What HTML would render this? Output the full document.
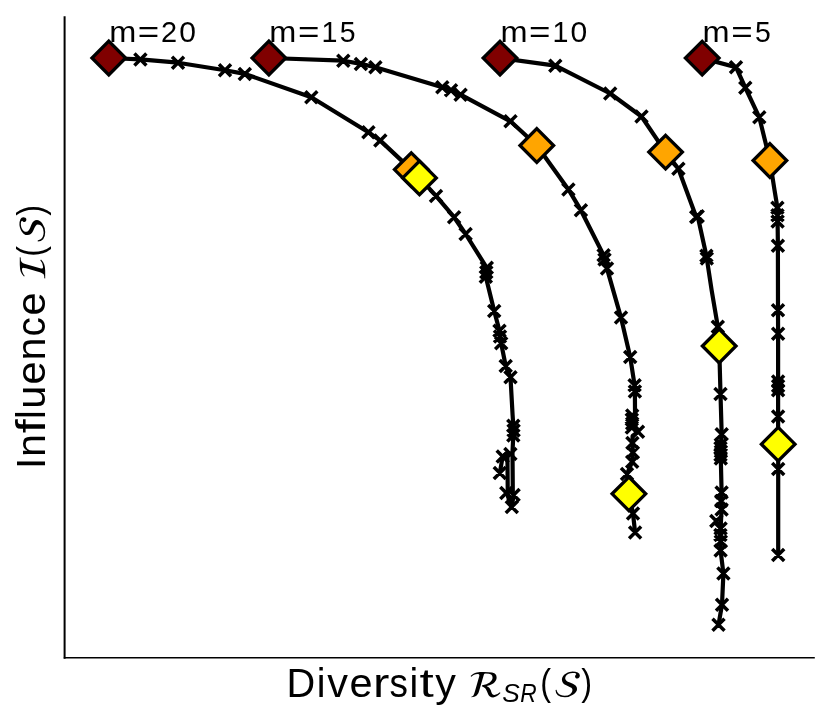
<!DOCTYPE html>
<html lang="en"><head><meta charset="utf-8"><title>Influence vs. Diversity trade-off curves</title>
<style>html,body{margin:0;padding:0;background:#fff;overflow:hidden;}svg{display:block;will-change:transform;}text{font-family:"Liberation Sans",sans-serif;fill:#000;}.obl{font-family:"Liberation Sans",sans-serif;font-style:italic;}</style></head><body>
<svg role="img" aria-label="Influence I(S) versus Diversity R_SR(S) for m=20, 15, 10, 5" width="830" height="724" viewBox="0 0 830 724">
<rect x="0" y="0" width="830" height="724" fill="#ffffff"/>
<g stroke="#000" fill="none" stroke-linecap="square">
<line x1="64.6" y1="17.2" x2="64.6" y2="657.7" stroke-width="2"/>
<line x1="64.6" y1="657.7" x2="814" y2="657.7" stroke-width="1.6"/>
</g>
<g stroke="#000" stroke-width="4.2" fill="none" stroke-linejoin="round" stroke-linecap="butt">
<polyline points="108.8,58.0 140.4,59.4 178.0,62.7 225.0,70.2 244.8,73.9 311.3,97.2 368.4,132.3 380.3,140.6 411.3,169.6 419.5,177.9 436.0,195.9 454.1,217.2 465.6,234.0 486.8,267.8 486.3,272.3 485.8,276.8 494.2,310.9 499.5,330.7 500.0,336.5 501.2,343.3 505.7,366.0 510.5,377.3 512.6,415.0 513.3,425.8 513.6,430.6 513.3,435.4 512.5,452.0 512.8,492.0 513.6,495.0 511.8,507.0 507.8,496.0 507.4,453.0 502.7,456.4 499.8,473.0"/>
<polyline points="268.9,58.0 343.3,60.7 360.9,63.9 375.4,67.2 442.3,87.2 451.0,90.3 460.6,94.7 510.5,121.3 536.8,145.5 568.4,189.4 580.9,210.2 603.6,255.2 604.5,259.5 607.0,268.6 621.0,317.6 630.2,356.9 634.6,385.2 634.9,391.5 635.0,410.0 635.2,427.0 638.0,431.8 632.6,436.0 632.4,443.0 632.9,452.6 632.2,461.8 627.0,474.0 628.9,493.8 633.0,513.5 635.1,532.6"/>
<polyline points="500.0,58.1 555.3,65.7 610.2,93.5 641.5,116.5 665.6,152.1 678.4,168.8 696.2,216.9 697.7,216.3 706.4,255.8 706.8,258.4 711.6,290.0 717.8,326.7 719.2,346.0 720.5,394.0 721.7,434.2 720.8,444.5 720.5,448.0 720.9,451.5 720.5,455.0 720.8,458.5 721.6,492.4 721.2,501.0 721.6,509.5 720.6,528.5 720.4,535.0 720.8,541.5 720.6,550.5 723.4,573.6 722.0,604.7 718.5,624.8"/>
<polyline points="702.2,58.1 736.0,67.2 745.3,87.7 759.3,117.3 769.9,160.5 774.5,190.0 777.4,207.7 777.5,215.2 777.6,221.5 777.9,245.8 778.0,310.2 778.1,333.8 778.1,381.5 778.1,386.0 778.1,390.3 778.1,416.5 778.2,444.2 778.2,469.1 778.2,555.0"/>
</g>
<path d="M134.4 53.4L146.4 65.4M134.4 65.4L146.4 53.4M172.0 56.7L184.0 68.7M172.0 68.7L184.0 56.7M219.0 64.2L231.0 76.2M219.0 76.2L231.0 64.2M238.8 67.9L250.8 79.9M238.8 79.9L250.8 67.9M305.3 91.2L317.3 103.2M305.3 103.2L317.3 91.2M362.4 126.3L374.4 138.3M362.4 138.3L374.4 126.3M374.3 134.6L386.3 146.6M374.3 146.6L386.3 134.6M430.0 189.9L442.0 201.9M430.0 201.9L442.0 189.9M448.1 211.2L460.1 223.2M448.1 223.2L460.1 211.2M459.6 228.0L471.6 240.0M459.6 240.0L471.6 228.0M480.8 261.8L492.8 273.8M480.8 273.8L492.8 261.8M480.3 266.3L492.3 278.3M480.3 278.3L492.3 266.3M479.8 270.8L491.8 282.8M479.8 282.8L491.8 270.8M488.2 304.9L500.2 316.9M488.2 316.9L500.2 304.9M493.5 324.7L505.5 336.7M493.5 336.7L505.5 324.7M494.0 330.5L506.0 342.5M494.0 342.5L506.0 330.5M495.2 337.3L507.2 349.3M495.2 349.3L507.2 337.3M499.7 360.0L511.7 372.0M499.7 372.0L511.7 360.0M504.5 371.3L516.5 383.3M504.5 383.3L516.5 371.3M507.3 419.8L519.3 431.8M507.3 431.8L519.3 419.8M507.6 424.6L519.6 436.6M507.6 436.6L519.6 424.6M507.3 429.4L519.3 441.4M507.3 441.4L519.3 429.4M504.4 448.0L516.4 460.0M504.4 460.0L516.4 448.0M507.6 489.0L519.6 501.0M507.6 501.0L519.6 489.0M505.8 501.0L517.8 513.0M505.8 513.0L517.8 501.0M500.3 487.0L512.3 499.0M500.3 499.0L512.3 487.0M496.7 450.4L508.7 462.4M496.7 462.4L508.7 450.4M493.8 467.0L505.8 479.0M493.8 479.0L505.8 467.0M337.3 54.7L349.3 66.7M337.3 66.7L349.3 54.7M354.9 57.9L366.9 69.9M354.9 69.9L366.9 57.9M369.4 61.2L381.4 73.2M369.4 73.2L381.4 61.2M436.3 81.2L448.3 93.2M436.3 93.2L448.3 81.2M445.0 84.3L457.0 96.3M445.0 96.3L457.0 84.3M454.6 88.7L466.6 100.7M454.6 100.7L466.6 88.7M504.5 115.3L516.5 127.3M504.5 127.3L516.5 115.3M562.4 183.4L574.4 195.4M562.4 195.4L574.4 183.4M574.9 204.2L586.9 216.2M574.9 216.2L586.9 204.2M597.6 249.2L609.6 261.2M597.6 261.2L609.6 249.2M598.5 253.5L610.5 265.5M598.5 265.5L610.5 253.5M601.0 262.6L613.0 274.6M601.0 274.6L613.0 262.6M615.0 311.6L627.0 323.6M615.0 323.6L627.0 311.6M624.2 350.9L636.2 362.9M624.2 362.9L636.2 350.9M628.6 379.2L640.6 391.2M628.6 391.2L640.6 379.2M628.9 385.5L640.9 397.5M628.9 397.5L640.9 385.5M626.2 409.5L638.2 421.5M626.2 421.5L638.2 409.5M625.8 413.5L637.8 425.5M625.8 425.5L637.8 413.5M626.2 417.5L638.2 429.5M626.2 429.5L638.2 417.5M625.8 421.5L637.8 433.5M625.8 433.5L637.8 421.5M632.0 425.8L644.0 437.8M632.0 437.8L644.0 425.8M626.4 437.0L638.4 449.0M626.4 449.0L638.4 437.0M626.9 446.6L638.9 458.6M626.9 458.6L638.9 446.6M626.2 455.8L638.2 467.8M626.2 467.8L638.2 455.8M621.0 468.0L633.0 480.0M621.0 480.0L633.0 468.0M627.0 507.5L639.0 519.5M627.0 519.5L639.0 507.5M629.1 526.6L641.1 538.6M629.1 538.6L641.1 526.6M549.3 59.7L561.3 71.7M549.3 71.7L561.3 59.7M604.2 87.5L616.2 99.5M604.2 99.5L616.2 87.5M635.5 110.5L647.5 122.5M635.5 122.5L647.5 110.5M672.4 162.8L684.4 174.8M672.4 174.8L684.4 162.8M690.2 210.9L702.2 222.9M690.2 222.9L702.2 210.9M691.7 210.3L703.7 222.3M691.7 222.3L703.7 210.3M700.4 249.8L712.4 261.8M700.4 261.8L712.4 249.8M700.8 252.4L712.8 264.4M700.8 264.4L712.8 252.4M711.8 320.7L723.8 332.7M711.8 332.7L723.8 320.7M714.5 388.0L726.5 400.0M714.5 400.0L726.5 388.0M715.7 428.2L727.7 440.2M715.7 440.2L727.7 428.2M714.8 438.5L726.8 450.5M714.8 450.5L726.8 438.5M714.5 442.0L726.5 454.0M714.5 454.0L726.5 442.0M714.9 445.5L726.9 457.5M714.9 457.5L726.9 445.5M714.5 449.0L726.5 461.0M714.5 461.0L726.5 449.0M714.8 452.5L726.8 464.5M714.8 464.5L726.8 452.5M715.6 486.4L727.6 498.4M715.6 498.4L727.6 486.4M715.2 495.0L727.2 507.0M715.2 507.0L727.2 495.0M715.6 503.5L727.6 515.5M715.6 515.5L727.6 503.5M710.3 515.0L722.3 527.0M710.3 527.0L722.3 515.0M714.6 522.5L726.6 534.5M714.6 534.5L726.6 522.5M714.4 529.0L726.4 541.0M714.4 541.0L726.4 529.0M714.8 535.5L726.8 547.5M714.8 547.5L726.8 535.5M714.6 544.5L726.6 556.5M714.6 556.5L726.6 544.5M717.4 567.6L729.4 579.6M717.4 579.6L729.4 567.6M716.0 598.7L728.0 610.7M716.0 610.7L728.0 598.7M712.5 618.8L724.5 630.8M712.5 630.8L724.5 618.8M730.0 61.2L742.0 73.2M730.0 73.2L742.0 61.2M739.3 81.7L751.3 93.7M739.3 93.7L751.3 81.7M753.3 111.3L765.3 123.3M753.3 123.3L765.3 111.3M771.4 201.7L783.4 213.7M771.4 213.7L783.4 201.7M771.5 209.2L783.5 221.2M771.5 221.2L783.5 209.2M771.6 215.5L783.6 227.5M771.6 227.5L783.6 215.5M771.9 239.8L783.9 251.8M771.9 251.8L783.9 239.8M772.0 304.2L784.0 316.2M772.0 316.2L784.0 304.2M772.1 327.8L784.1 339.8M772.1 339.8L784.1 327.8M772.1 375.5L784.1 387.5M772.1 387.5L784.1 375.5M772.1 380.0L784.1 392.0M772.1 392.0L784.1 380.0M772.1 384.3L784.1 396.3M772.1 396.3L784.1 384.3M772.1 410.5L784.1 422.5M772.1 422.5L784.1 410.5M772.2 463.1L784.2 475.1M772.2 475.1L784.2 463.1M772.2 549.0L784.2 561.0M772.2 561.0L784.2 549.0" stroke="#000" stroke-width="3.5" fill="none" stroke-linecap="butt"/>
<path d="M108.8 41.2L125.6 58.0L108.8 74.8L92.0 58.0Z" fill="#800000" stroke="#000" stroke-width="3.3" stroke-linejoin="miter"/>
<path d="M268.9 41.2L285.7 58.0L268.9 74.8L252.1 58.0Z" fill="#800000" stroke="#000" stroke-width="3.3" stroke-linejoin="miter"/>
<path d="M500.0 41.3L516.8 58.1L500.0 74.9L483.2 58.1Z" fill="#800000" stroke="#000" stroke-width="3.3" stroke-linejoin="miter"/>
<path d="M702.2 41.3L719.0 58.1L702.2 74.9L685.4 58.1Z" fill="#800000" stroke="#000" stroke-width="3.3" stroke-linejoin="miter"/>
<path d="M411.3 152.8L428.1 169.6L411.3 186.4L394.5 169.6Z" fill="#ffa500" stroke="#000" stroke-width="3.3" stroke-linejoin="miter"/>
<path d="M536.8 128.7L553.6 145.5L536.8 162.3L520.0 145.5Z" fill="#ffa500" stroke="#000" stroke-width="3.3" stroke-linejoin="miter"/>
<path d="M665.6 135.3L682.4 152.1L665.6 168.9L648.8 152.1Z" fill="#ffa500" stroke="#000" stroke-width="3.3" stroke-linejoin="miter"/>
<path d="M769.9 143.7L786.7 160.5L769.9 177.3L753.1 160.5Z" fill="#ffa500" stroke="#000" stroke-width="3.3" stroke-linejoin="miter"/>
<path d="M419.5 161.1L436.3 177.9L419.5 194.7L402.7 177.9Z" fill="#ffff00" stroke="#000" stroke-width="3.3" stroke-linejoin="miter"/>
<path d="M628.9 477.0L645.7 493.8L628.9 510.6L612.1 493.8Z" fill="#ffff00" stroke="#000" stroke-width="3.3" stroke-linejoin="miter"/>
<path d="M719.2 329.2L736.0 346.0L719.2 362.8L702.4 346.0Z" fill="#ffff00" stroke="#000" stroke-width="3.3" stroke-linejoin="miter"/>
<path d="M778.2 427.4L795.0 444.2L778.2 461.0L761.4 444.2Z" fill="#ffff00" stroke="#000" stroke-width="3.3" stroke-linejoin="miter"/>
<text transform="translate(108.8,41.5)" y="0" font-size="29.8"><tspan x="0.43" textLength="27.05" lengthAdjust="spacingAndGlyphs">m</tspan><tspan x="28.99" textLength="21.44" lengthAdjust="spacingAndGlyphs">=</tspan><tspan x="52.27" textLength="16.10" lengthAdjust="spacingAndGlyphs">2</tspan><tspan x="70.48" textLength="16.71" lengthAdjust="spacingAndGlyphs">0</tspan></text>
<text transform="translate(268.9,41.5)" y="0" font-size="29.8"><tspan x="0.43" textLength="27.05" lengthAdjust="spacingAndGlyphs">m</tspan><tspan x="28.99" textLength="21.44" lengthAdjust="spacingAndGlyphs">=</tspan><tspan x="52.59" textLength="15.96" lengthAdjust="spacingAndGlyphs">1</tspan><tspan x="70.84" textLength="15.77" lengthAdjust="spacingAndGlyphs">5</tspan></text>
<text transform="translate(500.0,41.5)" y="0" font-size="29.8"><tspan x="0.43" textLength="27.05" lengthAdjust="spacingAndGlyphs">m</tspan><tspan x="28.99" textLength="21.44" lengthAdjust="spacingAndGlyphs">=</tspan><tspan x="52.59" textLength="15.96" lengthAdjust="spacingAndGlyphs">1</tspan><tspan x="70.48" textLength="16.71" lengthAdjust="spacingAndGlyphs">0</tspan></text>
<text transform="translate(702.2,41.5)" y="0" font-size="29.8"><tspan x="0.43" textLength="27.05" lengthAdjust="spacingAndGlyphs">m</tspan><tspan x="28.99" textLength="21.44" lengthAdjust="spacingAndGlyphs">=</tspan><tspan x="52.71" textLength="15.77" lengthAdjust="spacingAndGlyphs">5</tspan></text>
<g transform="translate(286.1,697.3)">
<text y="0" font-size="40.0"><tspan x="0.51" textLength="28.69" lengthAdjust="spacingAndGlyphs">D</tspan><tspan x="30.56" textLength="8.73" lengthAdjust="spacingAndGlyphs">i</tspan><tspan x="41.24" textLength="20.72" lengthAdjust="spacingAndGlyphs">v</tspan><tspan x="63.32" textLength="23.07" lengthAdjust="spacingAndGlyphs">e</tspan><tspan x="86.81" textLength="16.38" lengthAdjust="spacingAndGlyphs">r</tspan><tspan x="103.43" textLength="18.41" lengthAdjust="spacingAndGlyphs">s</tspan><tspan x="123.37" textLength="8.73" lengthAdjust="spacingAndGlyphs">i</tspan><tspan x="133.30" textLength="14.26" lengthAdjust="spacingAndGlyphs">t</tspan><tspan x="149.15" textLength="20.62" lengthAdjust="spacingAndGlyphs">y</tspan></text>
<path transform="translate(183.04,0.00) scale(0.03840,-0.03840)" d="M800 129 816 111Q708 -3 624 -3Q574 -3 541.5 23Q509 49 495.5 82.5Q482 116 460 163.5Q438 211 413 240Q404 251 370 271Q336 291 331 291L340 314Q463 326 537 385Q611 444 611 503Q611 571 571.5 595.5Q532 620 432 620Q407 620 397.5 612Q388 604 383 586L267 190Q257 156 249 134Q241 112 224 84Q207 56 186.5 39.5Q166 23 132.5 11.5Q99 0 56 0L65 24Q95 24 110.5 49Q126 74 146 141L237 456Q267 557 267 572Q267 608 221 608Q196 608 174 603Q152 598 132 587.5Q112 577 101 570Q90 563 73 550Q56 537 54 535L38 554Q76 593 113 616Q150 639 198.5 648.5Q247 658 281.5 660Q316 662 388 662Q522 662 596 643.5Q670 625 692.5 595.5Q715 566 715 516Q715 486 704.5 458.5Q694 431 668 400Q642 369 589.5 342Q537 315 462 295V291Q503 275 528.5 245Q554 215 564 184Q574 153 583 124.5Q592 96 609 77.5Q626 59 657 59Q728 59 800 129Z" fill="#000"/>
<text class="obl" y="4.90" font-size="25.4"><tspan x="216.06" textLength="17.53" lengthAdjust="spacingAndGlyphs">S</tspan><tspan x="234.10" textLength="16.40" lengthAdjust="spacingAndGlyphs">R</tspan></text>
<text y="-2.7" font-size="36.0"><tspan x="254.28" textLength="10.80" lengthAdjust="spacingAndGlyphs">(</tspan></text>
<path transform="translate(267.97,0.00) scale(0.03840,-0.03840)" d="M38 193 64 196Q81 91 178 57Q222 41 276 41Q360 41 419.5 80.5Q479 120 479 193Q479 223 450.5 245.5Q422 268 382 284Q342 300 301.5 319.5Q261 339 232.5 375.5Q204 412 204 464Q204 514 235.5 555.5Q267 597 312.5 621Q358 645 402 658Q446 671 478 671Q563 671 617 646Q671 621 671 569Q671 541 653.5 515.5Q636 490 602 490Q580 490 563 505Q546 520 546 540Q546 563 561 579.5Q576 596 576 600Q576 612 567 619.5Q558 627 540 630Q522 633 510 633.5Q498 634 478 634Q458 634 429 626.5Q400 619 367.5 604Q335 589 312.5 559.5Q290 530 290 493Q290 458 321.5 433Q353 408 398.5 391Q444 374 489.5 354.5Q535 335 566.5 300Q598 265 598 215Q598 141 501 70.5Q404 0 282 0Q155 0 96.5 53Q38 106 38 193Z" fill="#000"/>
<text y="-2.7" font-size="36.0"><tspan x="295.20" textLength="10.81" lengthAdjust="spacingAndGlyphs">)</tspan></text>
</g>
<g transform="translate(45.2,469.1) rotate(-90)">
<text y="0" font-size="40.0"><tspan x="0.02" textLength="11.28" lengthAdjust="spacingAndGlyphs">I</tspan><tspan x="12.06" textLength="23.03" lengthAdjust="spacingAndGlyphs">n</tspan><tspan x="35.83" textLength="14.01" lengthAdjust="spacingAndGlyphs">f</tspan><tspan x="50.16" textLength="8.72" lengthAdjust="spacingAndGlyphs">l</tspan><tspan x="60.43" textLength="23.03" lengthAdjust="spacingAndGlyphs">u</tspan><tspan x="84.54" textLength="23.07" lengthAdjust="spacingAndGlyphs">e</tspan><tspan x="108.55" textLength="23.03" lengthAdjust="spacingAndGlyphs">n</tspan><tspan x="132.63" textLength="19.26" lengthAdjust="spacingAndGlyphs">c</tspan><tspan x="153.62" textLength="23.07" lengthAdjust="spacingAndGlyphs">e</tspan></text>
<path transform="translate(189.09,0.00) scale(0.03840,-0.03840)" d="M591 662 585 638Q544 638 523 635.5Q502 633 479.5 621.5Q457 610 443.5 586.5Q430 563 418 521L300 111Q297 99 297 87Q297 55 345 55Q436 55 513 128L531 109Q470 50 401 25Q332 0 242 0H38L44 24Q73 24 87 25Q101 26 121.5 31.5Q142 37 153.5 48.5Q165 60 178 81.5Q191 103 200 136L304 498Q322 561 322 574Q322 606 274 606Q238 606 188 586Q138 566 106 533L89 552Q148 610 216.5 636Q285 662 403 662Z" fill="#000"/>
<text y="-2.7" font-size="36.0"><tspan x="212.46" textLength="10.80" lengthAdjust="spacingAndGlyphs">(</tspan></text>
<path transform="translate(226.16,0.00) scale(0.03840,-0.03840)" d="M38 193 64 196Q81 91 178 57Q222 41 276 41Q360 41 419.5 80.5Q479 120 479 193Q479 223 450.5 245.5Q422 268 382 284Q342 300 301.5 319.5Q261 339 232.5 375.5Q204 412 204 464Q204 514 235.5 555.5Q267 597 312.5 621Q358 645 402 658Q446 671 478 671Q563 671 617 646Q671 621 671 569Q671 541 653.5 515.5Q636 490 602 490Q580 490 563 505Q546 520 546 540Q546 563 561 579.5Q576 596 576 600Q576 612 567 619.5Q558 627 540 630Q522 633 510 633.5Q498 634 478 634Q458 634 429 626.5Q400 619 367.5 604Q335 589 312.5 559.5Q290 530 290 493Q290 458 321.5 433Q353 408 398.5 391Q444 374 489.5 354.5Q535 335 566.5 300Q598 265 598 215Q598 141 501 70.5Q404 0 282 0Q155 0 96.5 53Q38 106 38 193Z" fill="#000"/>
<text y="-2.7" font-size="36.0"><tspan x="253.39" textLength="10.81" lengthAdjust="spacingAndGlyphs">)</tspan></text>
</g>
</svg></body></html>
